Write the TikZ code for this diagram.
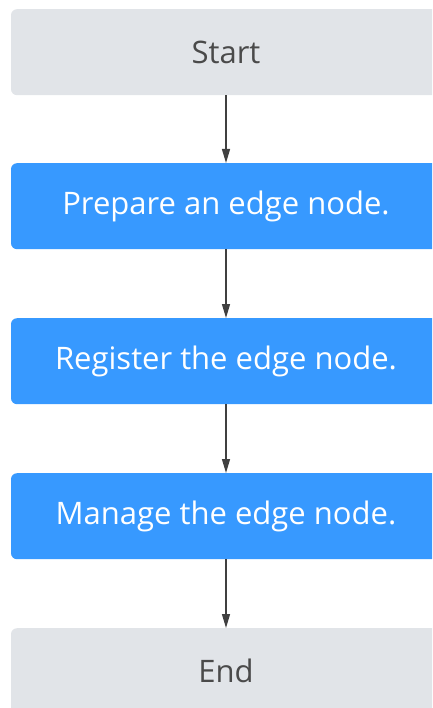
\documentclass[tikz,border=0pt]{standalone}
\usepackage{fontspec}
\setmainfont{Open Sans}
\usetikzlibrary{arrows.meta}
\definecolor{boxgray}{HTML}{E1E4E8}
\definecolor{boxblue}{HTML}{3799FF}
\definecolor{txtgray}{HTML}{4A4A4A}
\definecolor{arrgray}{HTML}{404040}
\tikzset{
  base/.style={rectangle, rounded corners=6pt, minimum width=430pt, minimum height=86pt, inner sep=0pt, font=\fontsize{31}{36}\selectfont, anchor=north},
  term/.style={base, fill=boxgray, text=txtgray},
  stepbox/.style={base, fill=boxblue, text=white},
  conn/.style={draw=arrgray, line width=1.3pt, -{Triangle[length=14pt,width=8pt]}}
}
\begin{document}
\begin{tikzpicture}[x=1pt,y=-1pt]
\useasboundingbox (0,0) rectangle (432,708);
\clip (0,0) rectangle (432,708);
\node[term] (start) at (226,9) {Start};
\node[stepbox] (s1) at (226,163) {Prepare an edge node.};
\node[stepbox] (s2) at (226,318) {Register the edge node.};
\node[stepbox] (s3) at (226,473) {Manage the edge node.};
\node[term] (end) at (226,628) {End};
\draw[conn] (start.south) -- (s1.north);
\draw[conn] (s1.south) -- (s2.north);
\draw[conn] (s2.south) -- (s3.north);
\draw[conn] (s3.south) -- (end.north);
\end{tikzpicture}
\end{document}
